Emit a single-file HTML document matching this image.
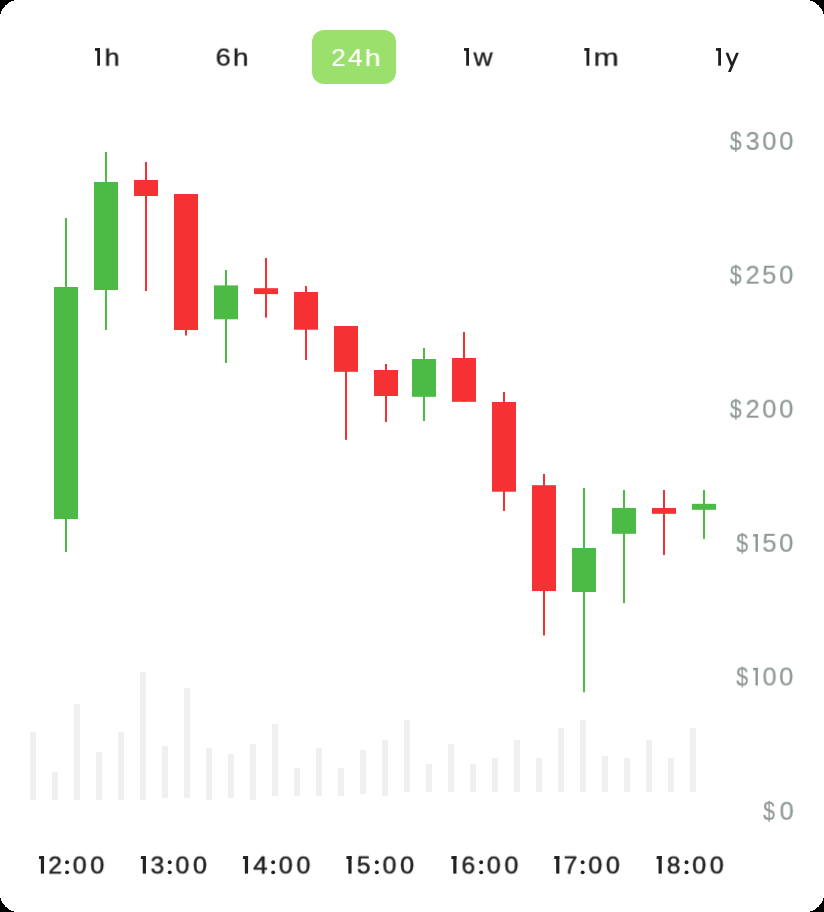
<!DOCTYPE html>
<html><head><meta charset="utf-8"><style>
html,body{margin:0;padding:0;background:#000;}
body{width:824px;height:912px;overflow:hidden;position:relative;font-family:"Liberation Sans",sans-serif;}
.card{position:absolute;left:0;top:0;width:824px;height:912px;background:#fff;}
.pill{position:absolute;left:312px;top:30px;width:84px;height:54px;border-radius:12px;background:#9be06c;}
i{position:absolute;font-style:normal;line-height:1;white-space:nowrap;transform-origin:0 0;will-change:transform;}
svg{position:absolute;left:0;top:0;}
</style></head><body><div class="card">
<div class="pill"></div>
<svg width="824" height="912" viewBox="0 0 824 912"><rect x="30" y="732" width="6" height="68" fill="#f0f0f0"/><rect x="52" y="772" width="6" height="28" fill="#f0f0f0"/><rect x="74" y="704" width="6" height="96" fill="#f0f0f0"/><rect x="96" y="752" width="6" height="48" fill="#f0f0f0"/><rect x="118" y="732" width="6" height="68" fill="#f0f0f0"/><rect x="140" y="672" width="6" height="128" fill="#f0f0f0"/><rect x="162" y="746" width="6" height="52" fill="#f0f0f0"/><rect x="184" y="688" width="6" height="110" fill="#f0f0f0"/><rect x="206" y="748" width="6" height="52" fill="#f0f0f0"/><rect x="228" y="754" width="6" height="44" fill="#f0f0f0"/><rect x="250" y="744" width="6" height="56" fill="#f0f0f0"/><rect x="272" y="724" width="6" height="72" fill="#f0f0f0"/><rect x="294" y="768" width="6" height="28" fill="#f0f0f0"/><rect x="316" y="748" width="6" height="48" fill="#f0f0f0"/><rect x="338" y="768" width="6" height="28" fill="#f0f0f0"/><rect x="360" y="750" width="6" height="44" fill="#f0f0f0"/><rect x="382" y="740" width="6" height="56" fill="#f0f0f0"/><rect x="404" y="720" width="6" height="72" fill="#f0f0f0"/><rect x="426" y="764" width="6" height="28" fill="#f0f0f0"/><rect x="448" y="744" width="6" height="48" fill="#f0f0f0"/><rect x="470" y="764" width="6" height="28" fill="#f0f0f0"/><rect x="492" y="758" width="6" height="34" fill="#f0f0f0"/><rect x="514" y="740" width="6" height="52" fill="#f0f0f0"/><rect x="536" y="758" width="6" height="34" fill="#f0f0f0"/><rect x="558" y="728" width="6" height="64" fill="#f0f0f0"/><rect x="580" y="720" width="6" height="72" fill="#f0f0f0"/><rect x="602" y="756" width="6" height="36" fill="#f0f0f0"/><rect x="624" y="758" width="6" height="34" fill="#f0f0f0"/><rect x="646" y="740" width="6" height="52" fill="#f0f0f0"/><rect x="668" y="758" width="6" height="34" fill="#f0f0f0"/><rect x="690" y="728" width="6" height="64" fill="#f0f0f0"/><rect x="65" y="218" width="2" height="334" fill="#4bbb46"/><rect x="54" y="287" width="24" height="232" fill="#4bbb46"/><rect x="105" y="152" width="2" height="178" fill="#4bbb46"/><rect x="94" y="182" width="24" height="108" fill="#4bbb46"/><rect x="145" y="162" width="2" height="129" fill="#f63133"/><rect x="134" y="180" width="24" height="16" fill="#f63133"/><rect x="185" y="194" width="2" height="141.5" fill="#f63133"/><rect x="174" y="194" width="24" height="136" fill="#f63133"/><rect x="225" y="270" width="2" height="93" fill="#4bbb46"/><rect x="214" y="285.4" width="24" height="33.9" fill="#4bbb46"/><rect x="265" y="258" width="2" height="59.6" fill="#f63133"/><rect x="254" y="288.2" width="24" height="5.9" fill="#f63133"/><rect x="305" y="286" width="2" height="74" fill="#f63133"/><rect x="294" y="292" width="24" height="37.7" fill="#f63133"/><rect x="345" y="326" width="2" height="113.8" fill="#f63133"/><rect x="334" y="326" width="24" height="45.8" fill="#f63133"/><rect x="385" y="364" width="2" height="58" fill="#f63133"/><rect x="374" y="370" width="24" height="26" fill="#f63133"/><rect x="423" y="348" width="2" height="73" fill="#4bbb46"/><rect x="412" y="359" width="24" height="37.8" fill="#4bbb46"/><rect x="463" y="332" width="2" height="69.8" fill="#f63133"/><rect x="452" y="358" width="24" height="43.8" fill="#f63133"/><rect x="503" y="392" width="2" height="119" fill="#f63133"/><rect x="492" y="402" width="24" height="89.7" fill="#f63133"/><rect x="543" y="474" width="2" height="161.5" fill="#f63133"/><rect x="532" y="485.2" width="24" height="105.9" fill="#f63133"/><rect x="583" y="488" width="2" height="204.3" fill="#4bbb46"/><rect x="572" y="548" width="24" height="44" fill="#4bbb46"/><rect x="623" y="490" width="2" height="113.2" fill="#4bbb46"/><rect x="612" y="508" width="24" height="25.8" fill="#4bbb46"/><rect x="663" y="490" width="2" height="65" fill="#f63133"/><rect x="652" y="508" width="24" height="5.8" fill="#f63133"/><rect x="703" y="490" width="2" height="48.9" fill="#4bbb46"/><rect x="692" y="503.8" width="24" height="6" fill="#4bbb46"/><rect x="95" y="48.1" width="5" height="2.7" fill="#1e1e1e"/><rect x="97.2" y="48.1" width="2.8" height="17.6" fill="#1e1e1e"/><rect x="464" y="48.1" width="5" height="2.7" fill="#1e1e1e"/><rect x="466.2" y="48.1" width="2.8" height="17.6" fill="#1e1e1e"/><rect x="584.3" y="48.1" width="5" height="2.7" fill="#1e1e1e"/><rect x="586.5" y="48.1" width="2.8" height="17.6" fill="#1e1e1e"/><rect x="716" y="48.1" width="5" height="2.7" fill="#1e1e1e"/><rect x="718.2" y="48.1" width="2.8" height="17.6" fill="#1e1e1e"/><path d="M736.1 52.7H738.9L730.8 71.9H728ZM725.5 52.7H728.3L733.6 65.9H730.8Z" fill="#1e1e1e"/><rect x="38.95" y="856.1" width="5.1" height="2.9" fill="#222222"/><rect x="40.85" y="856.1" width="3.2" height="17.5" fill="#222222"/><circle cx="67.05" cy="862.2" r="1.95" fill="#222222"/><circle cx="67.05" cy="872.35" r="1.95" fill="#222222"/><rect x="140.85" y="856.1" width="5.1" height="2.9" fill="#222222"/><rect x="142.75" y="856.1" width="3.2" height="17.5" fill="#222222"/><circle cx="169.75" cy="862.2" r="1.95" fill="#222222"/><circle cx="169.75" cy="872.35" r="1.95" fill="#222222"/><rect x="242.95" y="856.1" width="5.1" height="2.9" fill="#222222"/><rect x="244.85" y="856.1" width="3.2" height="17.5" fill="#222222"/><circle cx="273.15" cy="862.2" r="1.95" fill="#222222"/><circle cx="273.15" cy="872.35" r="1.95" fill="#222222"/><rect x="346.45" y="856.1" width="5.1" height="2.9" fill="#222222"/><rect x="348.35" y="856.1" width="3.2" height="17.5" fill="#222222"/><circle cx="376.85" cy="862.2" r="1.95" fill="#222222"/><circle cx="376.85" cy="872.35" r="1.95" fill="#222222"/><rect x="451.35" y="856.1" width="5.1" height="2.9" fill="#222222"/><rect x="453.25" y="856.1" width="3.2" height="17.5" fill="#222222"/><circle cx="481.15" cy="862.2" r="1.95" fill="#222222"/><circle cx="481.15" cy="872.35" r="1.95" fill="#222222"/><rect x="554.25" y="856.1" width="5.1" height="2.9" fill="#222222"/><rect x="556.15" y="856.1" width="3.2" height="17.5" fill="#222222"/><circle cx="582.65" cy="862.2" r="1.95" fill="#222222"/><circle cx="582.65" cy="872.35" r="1.95" fill="#222222"/><rect x="656.65" y="856.1" width="5.1" height="2.9" fill="#222222"/><rect x="658.55" y="856.1" width="3.2" height="17.5" fill="#222222"/><circle cx="686.55" cy="862.2" r="1.95" fill="#222222"/><circle cx="686.55" cy="872.35" r="1.95" fill="#222222"/><rect x="753.1" y="534.2" width="4.8" height="2.4" fill="#8f9797"/><rect x="755.5" y="534.2" width="2.4" height="17.6" fill="#8f9797"/><rect x="753.1" y="667.9" width="4.8" height="2.4" fill="#8f9797"/><rect x="755.5" y="667.9" width="2.4" height="17.6" fill="#8f9797"/><path shape-rendering="crispEdges" fill="#000" d="M0 0 L14 0 L14 1 L11 1 L11 2 L9 2 L9 3 L8 3 L8 4 L7 4 L7 5 L5 5 L5 6 L5 6 L5 7 L4 7 L4 8 L3 8 L3 9 L2 9 L2 10 L2 10 L2 11 L1 11 L1 12 L1 12 L1 13 L1 13 L1 14 L0 14Z"/><path shape-rendering="crispEdges" fill="#000" d="M0 912 L14 912 L14 911 L11 911 L11 910 L9 910 L9 909 L8 909 L8 908 L7 908 L7 907 L5 907 L5 906 L5 906 L5 905 L4 905 L4 904 L3 904 L3 903 L2 903 L2 902 L2 902 L2 901 L1 901 L1 900 L1 900 L1 899 L1 899 L1 898 L0 898Z"/><path shape-rendering="crispEdges" fill="#000" d="M824 0 L810 0 L810 1 L813 1 L813 2 L815 2 L815 3 L816 3 L816 4 L817 4 L817 5 L819 5 L819 6 L819 6 L819 7 L820 7 L820 8 L821 8 L821 9 L822 9 L822 10 L822 10 L822 11 L823 11 L823 12 L823 12 L823 13 L823 13 L823 14 L824 14Z"/><path shape-rendering="crispEdges" fill="#000" d="M824 912 L810 912 L810 911 L813 911 L813 910 L815 910 L815 909 L816 909 L816 908 L817 908 L817 907 L819 907 L819 906 L819 906 L819 905 L820 905 L820 904 L821 904 L821 903 L822 903 L822 902 L822 902 L822 901 L823 901 L823 900 L823 900 L823 899 L823 899 L823 898 L824 898Z"/></svg>
<i style="left:104px;top:45px;font-size:24.5px;transform:translate(0.56px,0.61px) scale(1.107,1.0) rotate(0.02deg);-webkit-text-stroke:0.3px #1e1e1e;color:#1e1e1e">h</i><i style="left:215px;top:45px;font-size:24.5px;transform:translate(0.58px,0.61px) scale(1.117,1.0) rotate(0.02deg);-webkit-text-stroke:0.3px #1e1e1e;color:#1e1e1e">6</i><i style="left:232px;top:45px;font-size:24.5px;transform:translate(0.81px,0.61px) scale(1.160,1.0) rotate(0.02deg);-webkit-text-stroke:0.3px #1e1e1e;color:#1e1e1e">h</i><i style="left:331px;top:46px;font-size:24.5px;transform:translate(0.38px,0.05px) scale(1.045,1.0) rotate(0.02deg);-webkit-text-stroke:0.2px #ffffff;color:#ffffff">2</i><i style="left:348px;top:46px;font-size:24.5px;transform:translate(0.02px,0.05px) scale(1.083,1.0) rotate(0.02deg);-webkit-text-stroke:0.2px #ffffff;color:#ffffff">4</i><i style="left:364px;top:46px;font-size:24.5px;transform:translate(0.72px,0.05px) scale(1.172,1.0) rotate(0.02deg);-webkit-text-stroke:0.2px #ffffff;color:#ffffff">h</i><i style="left:473px;top:45px;font-size:24.5px;transform:translate(0.45px,0.61px) scale(1.080,1.0) rotate(0.02deg);-webkit-text-stroke:0.3px #1e1e1e;color:#1e1e1e">w</i><i style="left:593px;top:45px;font-size:24.5px;transform:translate(0.48px,0.61px) scale(1.237,1.0) rotate(0.02deg);-webkit-text-stroke:0.3px #1e1e1e;color:#1e1e1e">m</i><i style="left:48px;top:853px;font-size:24.5px;transform:translate(0.32px,0.51px) scale(1.003,1.0) rotate(0.02deg);-webkit-text-stroke:0.5px #222222;color:#222222">2</i><i style="left:72px;top:853px;font-size:24.5px;transform:translate(0.7px,0.51px) scale(1.030,1.0) rotate(0.02deg);-webkit-text-stroke:0.5px #222222;color:#222222">0</i><i style="left:90px;top:853px;font-size:24.5px;transform:translate(0.27px,0.51px) scale(1.036,1.0) rotate(0.02deg);-webkit-text-stroke:0.5px #222222;color:#222222">0</i><i style="left:150px;top:853px;font-size:24.5px;transform:translate(0.58px,0.51px) scale(1.000,1.0) rotate(0.02deg);-webkit-text-stroke:0.5px #222222;color:#222222">3</i><i style="left:175px;top:853px;font-size:24.5px;transform:translate(0.39px,0.51px) scale(1.033,1.0) rotate(0.02deg);-webkit-text-stroke:0.5px #222222;color:#222222">0</i><i style="left:192px;top:853px;font-size:24.5px;transform:translate(0.94px,0.51px) scale(1.036,1.0) rotate(0.02deg);-webkit-text-stroke:0.5px #222222;color:#222222">0</i><i style="left:253px;top:853px;font-size:24.5px;transform:translate(0.3px,0.51px) scale(1.052,1.0) rotate(0.02deg);-webkit-text-stroke:0.5px #222222;color:#222222">4</i><i style="left:278px;top:853px;font-size:24.5px;transform:translate(0.74px,0.51px) scale(1.033,1.0) rotate(0.02deg);-webkit-text-stroke:0.5px #222222;color:#222222">0</i><i style="left:296px;top:853px;font-size:24.5px;transform:translate(0.39px,0.51px) scale(1.033,1.0) rotate(0.02deg);-webkit-text-stroke:0.5px #222222;color:#222222">0</i><i style="left:356px;top:853px;font-size:24.5px;transform:translate(0.86px,0.51px) scale(1.000,1.0) rotate(0.02deg);-webkit-text-stroke:0.5px #222222;color:#222222">5</i><i style="left:382px;top:853px;font-size:24.5px;transform:translate(0.54px,0.51px) scale(1.026,1.0) rotate(0.02deg);-webkit-text-stroke:0.5px #222222;color:#222222">0</i><i style="left:400px;top:853px;font-size:24.5px;transform:translate(0.11px,0.51px) scale(1.035,1.0) rotate(0.02deg);-webkit-text-stroke:0.5px #222222;color:#222222">0</i><i style="left:461px;top:853px;font-size:24.5px;transform:translate(0.5px,0.51px) scale(1.000,1.0) rotate(0.02deg);-webkit-text-stroke:0.5px #222222;color:#222222">6</i><i style="left:486px;top:853px;font-size:24.5px;transform:translate(0.74px,0.51px) scale(1.033,1.0) rotate(0.02deg);-webkit-text-stroke:0.5px #222222;color:#222222">0</i><i style="left:504px;top:853px;font-size:24.5px;transform:translate(0.39px,0.51px) scale(1.033,1.0) rotate(0.02deg);-webkit-text-stroke:0.5px #222222;color:#222222">0</i><i style="left:563px;top:853px;font-size:24.5px;transform:translate(0.67px,0.51px) scale(1.000,1.0) rotate(0.02deg);-webkit-text-stroke:0.5px #222222;color:#222222">7</i><i style="left:588px;top:853px;font-size:24.5px;transform:translate(0.27px,0.51px) scale(1.036,1.0) rotate(0.02deg);-webkit-text-stroke:0.5px #222222;color:#222222">0</i><i style="left:605px;top:853px;font-size:24.5px;transform:translate(0.84px,0.51px) scale(1.034,1.0) rotate(0.02deg);-webkit-text-stroke:0.5px #222222;color:#222222">0</i><i style="left:666px;top:853px;font-size:24.5px;transform:translate(0.83px,0.51px) scale(1.000,1.0) rotate(0.02deg);-webkit-text-stroke:0.5px #222222;color:#222222">8</i><i style="left:692px;top:853px;font-size:24.5px;transform:translate(0.21px,0.51px) scale(1.035,1.0) rotate(0.02deg);-webkit-text-stroke:0.5px #222222;color:#222222">0</i><i style="left:709px;top:853px;font-size:24.5px;transform:translate(0.74px,0.51px) scale(1.033,1.0) rotate(0.02deg);-webkit-text-stroke:0.5px #222222;color:#222222">0</i><i style="left:729px;top:128px;font-size:24.5px;transform:translate(0.85px,0.97px) scale(0.868,1.03) rotate(0.02deg);-webkit-text-stroke:0.2px #8f9797;color:#8f9797">$</i><i style="left:745px;top:128px;font-size:24.5px;transform:translate(0.64px,0.97px) scale(1.028,1.03) rotate(0.02deg);-webkit-text-stroke:0.2px #8f9797;color:#8f9797">3</i><i style="left:762px;top:128px;font-size:24.5px;transform:translate(0.3px,0.97px) scale(1.045,1.03) rotate(0.02deg);-webkit-text-stroke:0.2px #8f9797;color:#8f9797">0</i><i style="left:779px;top:128px;font-size:24.5px;transform:translate(0.26px,0.97px) scale(1.045,1.03) rotate(0.02deg);-webkit-text-stroke:0.2px #8f9797;color:#8f9797">0</i><i style="left:729px;top:262px;font-size:24.5px;transform:translate(0.85px,0.77px) scale(0.869,1.03) rotate(0.02deg);-webkit-text-stroke:0.2px #8f9797;color:#8f9797">$</i><i style="left:745px;top:262px;font-size:24.5px;transform:translate(0.54px,0.77px) scale(1.038,1.03) rotate(0.02deg);-webkit-text-stroke:0.2px #8f9797;color:#8f9797">2</i><i style="left:762px;top:262px;font-size:24.5px;transform:translate(0.22px,0.77px) scale(1.044,1.03) rotate(0.02deg);-webkit-text-stroke:0.2px #8f9797;color:#8f9797">5</i><i style="left:779px;top:262px;font-size:24.5px;transform:translate(0.22px,0.77px) scale(1.047,1.03) rotate(0.02deg);-webkit-text-stroke:0.2px #8f9797;color:#8f9797">0</i><i style="left:729px;top:396px;font-size:24.5px;transform:translate(0.85px,0.77px) scale(0.869,1.03) rotate(0.02deg);-webkit-text-stroke:0.2px #8f9797;color:#8f9797">$</i><i style="left:745px;top:396px;font-size:24.5px;transform:translate(0.54px,0.77px) scale(1.038,1.03) rotate(0.02deg);-webkit-text-stroke:0.2px #8f9797;color:#8f9797">2</i><i style="left:762px;top:396px;font-size:24.5px;transform:translate(0.27px,0.77px) scale(1.047,1.03) rotate(0.02deg);-webkit-text-stroke:0.2px #8f9797;color:#8f9797">0</i><i style="left:779px;top:396px;font-size:24.5px;transform:translate(0.22px,0.77px) scale(1.047,1.03) rotate(0.02deg);-webkit-text-stroke:0.2px #8f9797;color:#8f9797">0</i><i style="left:736px;top:530px;font-size:24.5px;transform:translate(0.38px,0.87px) scale(0.856,1.03) rotate(0.02deg);-webkit-text-stroke:0.2px #8f9797;color:#8f9797">$</i><i style="left:762px;top:530px;font-size:24.5px;transform:translate(0.44px,0.87px) scale(1.042,1.03) rotate(0.02deg);-webkit-text-stroke:0.2px #8f9797;color:#8f9797">5</i><i style="left:779px;top:530px;font-size:24.5px;transform:translate(0.19px,0.87px) scale(1.047,1.03) rotate(0.02deg);-webkit-text-stroke:0.2px #8f9797;color:#8f9797">0</i><i style="left:736px;top:664px;font-size:24.5px;transform:translate(0.36px,0.57px) scale(0.858,1.03) rotate(0.02deg);-webkit-text-stroke:0.2px #8f9797;color:#8f9797">$</i><i style="left:762px;top:664px;font-size:24.5px;transform:translate(0.54px,0.57px) scale(1.035,1.03) rotate(0.02deg);-webkit-text-stroke:0.2px #8f9797;color:#8f9797">0</i><i style="left:779px;top:664px;font-size:24.5px;transform:translate(0.19px,0.57px) scale(1.047,1.03) rotate(0.02deg);-webkit-text-stroke:0.2px #8f9797;color:#8f9797">0</i><i style="left:763px;top:798px;font-size:24.5px;transform:translate(0.23px,0.87px) scale(0.858,1.03) rotate(0.02deg);-webkit-text-stroke:0.2px #8f9797;color:#8f9797">$</i><i style="left:779px;top:798px;font-size:24.5px;transform:translate(0.59px,0.87px) scale(1.043,1.03) rotate(0.02deg);-webkit-text-stroke:0.2px #8f9797;color:#8f9797">0</i>
</div></body></html>
